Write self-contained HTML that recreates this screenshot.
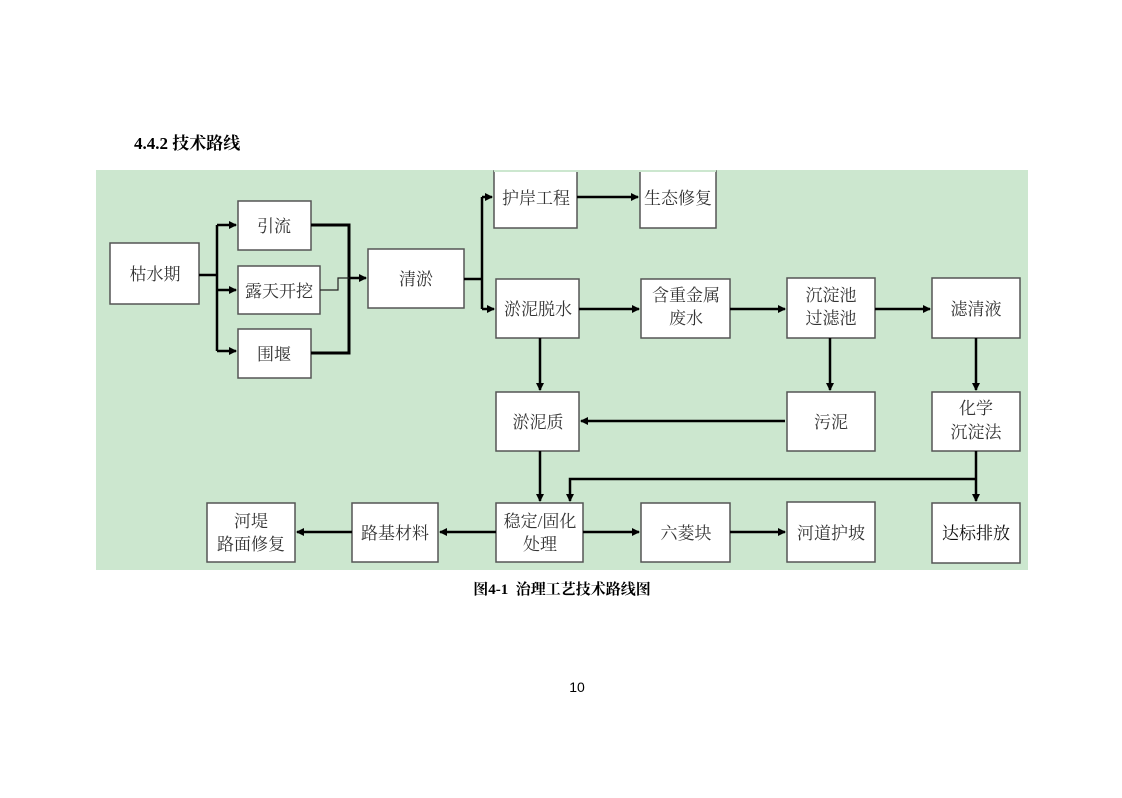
<!DOCTYPE html>
<html><head><meta charset="utf-8"><style>
body{margin:0;background:#fff;width:1122px;height:793px;overflow:hidden}
svg text{font-family:"Liberation Serif","Noto Serif CJK SC","Noto Sans CJK SC",serif}
</style></head><body>
<svg width="1122" height="793" viewBox="0 0 1122 793" xmlns="http://www.w3.org/2000/svg">
<defs><marker id="a" markerWidth="8" markerHeight="8" refX="7" refY="4" orient="auto" markerUnits="userSpaceOnUse"><path d="M0,0 L8,4 L0,8 z" fill="#000"/></marker></defs>
<text x="134" y="149" font-size="17" font-weight="bold" fill="#000">4.4.2 技术路线</text>
<rect x="96" y="170" width="932" height="400" fill="#cce7cf"/>
<g fill="#fff" stroke="#555" stroke-width="1.5">
<rect x="110" y="243" width="89" height="61"/>
<rect x="238" y="201" width="73" height="49"/>
<rect x="238" y="266" width="82" height="48"/>
<rect x="238" y="329" width="73" height="49"/>
<rect x="368" y="249" width="96" height="59"/>
<rect x="494" y="171" width="83" height="57"/>
<rect x="640" y="171" width="76" height="57"/>
<rect x="496" y="279" width="83" height="59"/>
<rect x="641" y="279" width="89" height="59"/>
<rect x="787" y="278" width="88" height="60"/>
<rect x="932" y="278" width="88" height="60"/>
<rect x="496" y="392" width="83" height="59"/>
<rect x="787" y="392" width="88" height="59"/>
<rect x="932" y="392" width="88" height="59"/>
<rect x="496" y="503" width="87" height="59"/>
<rect x="641" y="503" width="89" height="59"/>
<rect x="787" y="502" width="88" height="60"/>
<rect x="932" y="503" width="88" height="60"/>
<rect x="352" y="503" width="86" height="59"/>
<rect x="207" y="503" width="88" height="59"/>
</g>
<rect x="494" y="170" width="222" height="2" fill="#cce7cf"/>
<g fill="none" stroke="#000" stroke-width="2.5">
<path d="M199,275 H217"/>
<path d="M217,225 V351"/>
<path d="M217,225 H236" marker-end="url(#a)"/>
<path d="M217,290 H236" marker-end="url(#a)"/>
<path d="M217,351 H236" marker-end="url(#a)"/>
<path d="M311,225 H349 V353 H311" stroke-width="3"/>
<path d="M349,278 H366" marker-end="url(#a)"/>
<path d="M464,279 H482"/>
<path d="M482,197 V309"/>
<path d="M482,197 H492" marker-end="url(#a)"/>
<path d="M482,309 H494" marker-end="url(#a)"/>
<path d="M577,197 H638" marker-end="url(#a)"/>
<path d="M579,309 H639" marker-end="url(#a)"/>
<path d="M730,309 H785" marker-end="url(#a)"/>
<path d="M875,309 H930" marker-end="url(#a)"/>
<path d="M540,338 V390" marker-end="url(#a)"/>
<path d="M830,338 V390" marker-end="url(#a)"/>
<path d="M976,338 V390" marker-end="url(#a)"/>
<path d="M785,421 H581" marker-end="url(#a)"/>
<path d="M540,451 V501" marker-end="url(#a)"/>
<path d="M976,451 V501" marker-end="url(#a)"/>
<path d="M976,479 H570 V501" marker-end="url(#a)"/>
<path d="M583,532 H639" marker-end="url(#a)"/>
<path d="M730,532 H785" marker-end="url(#a)"/>
<path d="M496,532 H440" marker-end="url(#a)"/>
<path d="M352,532 H297" marker-end="url(#a)"/>
</g>
<path d="M320,290 H338 V278 H349" fill="none" stroke="#222" stroke-width="1.2"/>
<g font-size="17" fill="#333" text-anchor="middle">
<text x="155" y="280">枯水期</text>
<text x="274" y="232">引流</text>
<text x="279" y="297">露天开挖</text>
<text x="274" y="360">围堰</text>
<text x="416" y="285">清淤</text>
<text x="536" y="204">护岸工程</text>
<text x="678" y="204">生态修复</text>
<text x="538" y="315">淤泥脱水</text>
<text x="686" y="301">含重金属</text>
<text x="686" y="324">废水</text>
<text x="831" y="301">沉淀池</text>
<text x="831" y="324">过滤池</text>
<text x="976" y="315">滤清液</text>
<text x="538" y="428">淤泥质</text>
<text x="831" y="428">污泥</text>
<text x="976" y="414">化学</text>
<text x="976" y="438">沉淀法</text>
<text x="540" y="527">稳定/固化</text>
<text x="540" y="550">处理</text>
<text x="686" y="539">六菱块</text>
<text x="831" y="539">河道护坡</text>
<text x="976" y="539" fill="#111">达标排放</text>
<text x="395" y="539">路基材料</text>
<text x="251" y="527">河堤</text>
<text x="251" y="550">路面修复</text>
</g>
<text x="562" y="594" font-size="15" font-weight="bold" text-anchor="middle" fill="#000" xml:space="preserve">图4-1  治理工艺技术路线图</text>
<text x="577" y="692" font-size="14" text-anchor="middle" fill="#000" style="font-family:'Liberation Sans',sans-serif">10</text>
</svg>
</body></html>
